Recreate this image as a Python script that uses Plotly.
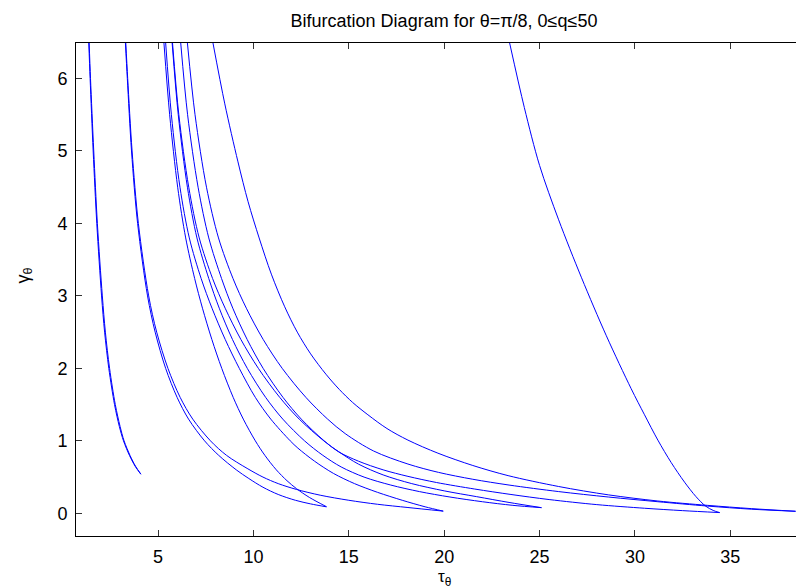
import plotly.graph_objects as go

# ---- data (tau_theta, gamma_theta) ----
a1_tau = [1.37, 1.44, 1.60, 1.79, 2.04, 2.20, 2.42, 2.72, 2.97, 3.19, 3.50, 3.80, 4.10]
a1_gam = [6.49, 6.00, 5.00, 4.00, 3.00, 2.50, 2.00, 1.50, 1.20, 1.00, 0.80, 0.65, 0.54]
a2_tau = [1.39, 1.46, 1.63, 1.82, 2.08, 2.24, 2.46, 2.76, 3.01, 3.22, 3.53, 3.82, 4.10]
a2_gam = [6.49, 6.00, 5.00, 4.00, 3.00, 2.50, 2.00, 1.50, 1.20, 1.00, 0.80, 0.65, 0.54]

b1_tau = [3.29, 3.39, 3.61, 3.93, 4.45, 4.85, 5.40, 6.00, 6.60, 7.44, 8.18, 9.10, 9.76, 10.5, 11.3, 12.2, 13.0, 13.82]
b1_gam = [6.49, 6.00, 5.00, 4.00, 3.00, 2.50, 2.00, 1.60, 1.30, 1.00, 0.80, 0.60, 0.48, 0.36, 0.26, 0.18, 0.13, 0.09]
b2_tau = [3.31, 3.41, 3.64, 3.97, 4.51, 4.93, 5.52, 6.16, 6.82, 7.75, 8.59, 9.67, 10.5, 11.3, 12.25, 13.5, 15.0, 16.5, 18.1, 19.95]
b2_gam = [6.49, 6.00, 5.00, 4.00, 3.00, 2.50, 2.00, 1.60, 1.30, 1.00, 0.80, 0.62, 0.50, 0.41, 0.33, 0.25, 0.18, 0.125, 0.08, 0.03]

c1_tau = [5.31, 5.61, 6.03, 6.45, 6.92, 7.33, 7.82, 8.34, 8.94, 9.47, 10.10, 10.60, 11.20, 11.76, 12.26, 12.93, 13.84]
c1_gam = [6.49, 5.50, 4.50, 3.80, 3.24, 2.83, 2.40, 2.00, 1.60, 1.30, 1.00, 0.80, 0.60, 0.45, 0.34, 0.22, 0.09]
c2_tau = [5.40, 5.70, 6.15, 6.64, 7.26, 7.83, 8.52, 9.26, 10.10, 10.91, 11.93, 12.33, 13.2, 14.2, 15.3, 16.5, 17.8, 19.0, 19.95]
c2_gam = [6.49, 5.50, 4.50, 3.80, 3.24, 2.83, 2.40, 2.00, 1.60, 1.30, 1.00, 0.90, 0.72, 0.55, 0.41, 0.29, 0.18, 0.09, 0.03]
c3_tau = [5.74, 6.06, 6.54, 7.04, 7.66, 8.21, 8.90, 9.68, 10.64, 11.54, 12.68, 13.64, 14.6, 15.8, 17.2, 18.7, 20.3, 22.0, 23.6, 25.1]
c3_gam = [6.49, 5.50, 4.50, 3.80, 3.24, 2.83, 2.40, 2.00, 1.60, 1.30, 1.00, 0.80, 0.64, 0.50, 0.39, 0.30, 0.225, 0.16, 0.11, 0.078]
c4_tau = [5.76, 6.09, 6.61, 7.16, 7.86, 8.52, 9.34, 10.26, 11.38, 12.40, 13.69, 14.47, 15.5, 16.8, 18.3, 20.0, 21.7, 23.4, 25.1]
c4_gam = [6.49, 5.50, 4.50, 3.80, 3.24, 2.83, 2.40, 2.00, 1.60, 1.30, 1.00, 0.85, 0.68, 0.53, 0.41, 0.31, 0.23, 0.15, 0.078]
c5_tau = [6.19, 6.55, 7.10, 7.66, 8.33, 8.92, 9.67, 10.51, 11.55, 12.51, 13.71, 14.46, 15.5, 16.8, 18.1, 19.6, 21.6, 23.5, 25.5, 28.0, 30.5, 32.5, 34.44]
c5_gam = [6.49, 5.50, 4.50, 3.80, 3.24, 2.83, 2.40, 2.00, 1.60, 1.30, 1.00, 0.85, 0.72, 0.60, 0.51, 0.425, 0.335, 0.26, 0.19, 0.12, 0.07, 0.037, 0.01]
c6_tau = [6.54, 6.94, 7.54, 8.17, 8.93, 9.63, 10.51, 11.51, 12.75, 13.89, 14.81, 16.3, 18.1, 19.7, 21.5, 23.4, 26.0, 28.6, 31.2, 33.8, 36.1, 38.42]
c6_gam = [6.49, 5.50, 4.50, 3.80, 3.24, 2.83, 2.40, 2.00, 1.60, 1.30, 1.10, 0.86, 0.68, 0.565, 0.47, 0.39, 0.30, 0.225, 0.16, 0.10, 0.057, 0.028]
c7_tau = [7.88, 8.50, 9.19, 9.72, 10.3, 10.94, 11.64, 12.3, 13.0, 13.8, 14.5, 15.2, 16.0, 17.0, 18.1, 19.67, 21.5, 23.35, 26.0, 28.6, 31.2, 33.8, 36.1, 38.42]
c7_gam = [6.49, 5.65, 4.85, 4.30, 3.80, 3.30, 2.85, 2.50, 2.20, 1.92, 1.71, 1.53, 1.36, 1.17, 1.01, 0.83, 0.66, 0.52, 0.37, 0.255, 0.17, 0.11, 0.065, 0.028]

d_tau = [23.43, 24.2, 25.0, 26.0, 27.2, 28.5, 29.8, 30.5, 31.2, 31.9, 32.6, 33.2, 33.7, 34.1, 34.44]
d_gam = [6.49, 5.60, 4.80, 4.05, 3.25, 2.45, 1.72, 1.36, 1.01, 0.70, 0.43, 0.23, 0.10, 0.04, 0.01]

curves = [
    (a1_tau, a1_gam), (a2_tau, a2_gam),
    (b1_tau, b1_gam), (b2_tau, b2_gam),
    (c1_tau, c1_gam), (c2_tau, c2_gam), (c3_tau, c3_gam), (c4_tau, c4_gam),
    (c5_tau, c5_gam), (c6_tau, c6_gam), (c7_tau, c7_gam),
    (d_tau, d_gam),
]

x_ticks = [5, 10, 15, 20, 25, 30, 35]
y_ticks = [0, 1, 2, 3, 4, 5, 6]
x_range = [0.70, 39.28]
y_range = [-0.313, 6.49]

fig = go.Figure()
for tx, gy in curves:
    fig.add_trace(go.Scatter(x=tx, y=gy, mode="lines",
                             line=dict(color="rgb(0,0,255)", width=1, shape="spline", smoothing=0.9),
                             showlegend=False, hoverinfo="skip"))
# invisible trace to carry the right-hand mirrored y ticks
fig.add_trace(go.Scatter(x=[None], y=[None], yaxis="y2", showlegend=False))

font_family = "Liberation Sans, Arial, Helvetica, sans-serif"
fig.update_layout(
    width=804, height=588,
    margin=dict(l=68, r=0, t=35, b=60),
    paper_bgcolor="white", plot_bgcolor="white",
    font=dict(family=font_family, size=18, color="black"),
    title=dict(text="Bifurcation Diagram for θ=π/8, 0≤q≤50",
               x=0.5, xref="paper", xanchor="center",
               y=1 - 13 / 588, yref="container", yanchor="middle",
               font=dict(size=18, family=font_family, color="black")),
    xaxis=dict(range=x_range, tickvals=x_ticks, ticks="inside", ticklen=6, tickcolor="#333",
               showline=True, linecolor="black", linewidth=1, mirror="ticks",
               showgrid=False, zeroline=False, ticklabelstandoff=4, automargin=False,
               tickfont=dict(size=18)),
    yaxis=dict(range=y_range, tickvals=y_ticks, ticks="inside", ticklen=6, tickcolor="#333",
               showline=True, linecolor="black", linewidth=1, mirror=False,
               showgrid=False, zeroline=False, ticklabelstandoff=4, automargin=False,
               tickfont=dict(size=18)),
    yaxis2=dict(range=y_range, tickvals=y_ticks, ticks="inside", ticklen=2, tickcolor="#333",
                overlaying="y", side="right", showticklabels=False, showline=False,
                showgrid=False, zeroline=False, automargin=False),
    annotations=[
        dict(text="τ<sub>θ</sub>", xref="paper", x=0.5, yref="paper", y=0, yanchor="top",
             yshift=-29, showarrow=False, font=dict(size=17, family=font_family)),
        dict(text="γ<sub>θ</sub>", xref="paper", x=0, xanchor="center", xshift=-52,
             yref="paper", y=0.5, yshift=14, textangle=-90, showarrow=False,
             font=dict(size=18, family=font_family)),
    ],
)

fig.write_html("out.html")
